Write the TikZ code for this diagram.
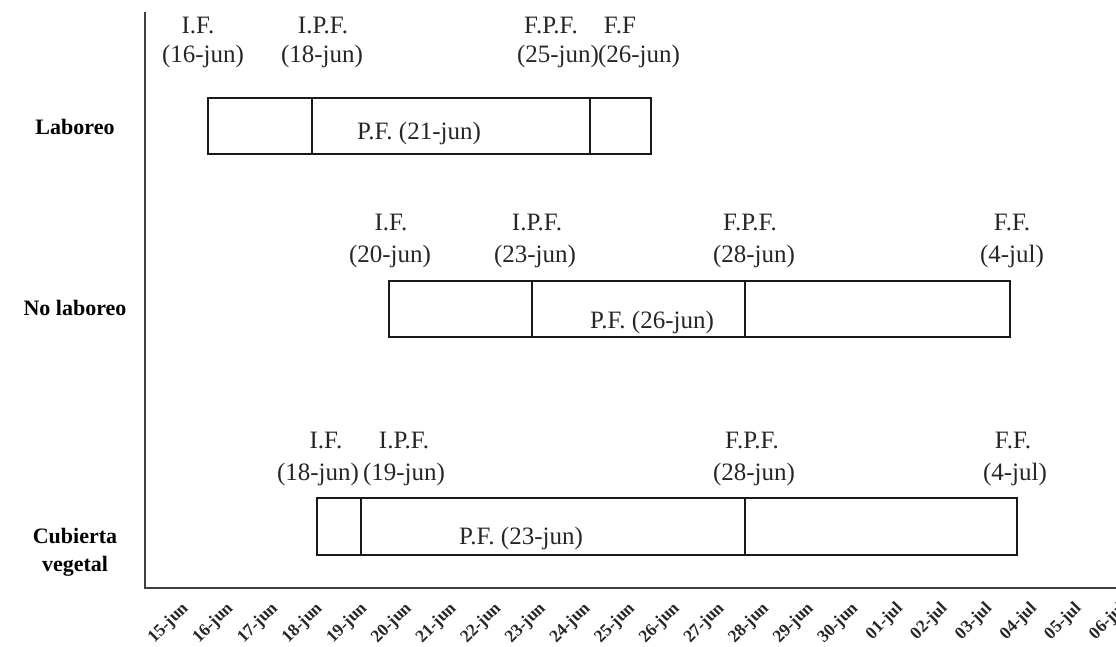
\documentclass[tikz,border=0pt]{standalone}
\usepackage{fontspec}
\setmainfont{Liberation Serif}
\begin{document}
\begin{tikzpicture}[x=1pt,y=-1pt,
  bar/.style={draw=black!90,line width=1.3pt},
  lbl/.style={anchor=base,font=\fontsize{25}{30}\selectfont,text=black!85,inner sep=0pt},
  rowlbl/.style={font=\fontsize{22}{28}\selectfont\bfseries,align=center,inner sep=0pt},
  ticklbl/.style={font=\fontsize{17.5}{20}\selectfont\bfseries,rotate=45,anchor=east,inner sep=0pt,text=black!85},
  axisline/.style={draw=black!75,line width=1.2pt}]
\useasboundingbox (0,0) rectangle (1116,646);
% axes
\coordinate (ytop) at (145,12);
\coordinate (orig) at (145,588);
\coordinate (xend) at (1116,588);
\draw[axisline] (ytop) -- (orig) -- (xend);
% tick labels
\foreach \d [count=\i from 0] in {15-jun,16-jun,17-jun,18-jun,19-jun,20-jun,21-jun,22-jun,23-jun,24-jun,25-jun,26-jun,27-jun,28-jun,29-jun,30-jun,01-jul,02-jul,03-jul,04-jul,05-jul,06-jul}
  \node[ticklbl] (t\i) at ({186+44.65*\i},606) {\d};
% row labels
\node[rowlbl] (r1) at (75,127) {Laboreo};
\node[rowlbl] (r2) at (75,308) {No laboreo};
\node[rowlbl] (r3) at (75,552) {Cubierta\\vegetal};
% Laboreo bar
\draw[bar] (208,98) rectangle (651,154);
\draw[bar] (312,98) -- (312,154);
\draw[bar] (590,98) -- (590,154);
\node[lbl] (a1) at (198,33) {I.F.};
\node[lbl] (a2) at (203,62) {(16-jun)};
\node[lbl] (a3) at (323,33) {I.P.F.};
\node[lbl] (a4) at (322,62) {(18-jun)};
\node[lbl] (a5) at (551,33) {F.P.F.};
\node[lbl] (a6) at (558,62) {(25-jun)};
\node[lbl] (a7) at (620,33) {F.F};
\node[lbl] (a8) at (639,62) {(26-jun)};
\node[lbl] (a9) at (419,139) {P.F. (21-jun)};
% No laboreo bar
\draw[bar] (389,281) rectangle (1010,337);
\draw[bar] (532,281) -- (532,337);
\draw[bar] (745,281) -- (745,337);
\node[lbl] (b1) at (391,230) {I.F.};
\node[lbl] (b2) at (390,262) {(20-jun)};
\node[lbl] (b3) at (537,230) {I.P.F.};
\node[lbl] (b4) at (535,262) {(23-jun)};
\node[lbl] (b5) at (750,230) {F.P.F.};
\node[lbl] (b6) at (754,262) {(28-jun)};
\node[lbl] (b7) at (1012,230) {F.F.};
\node[lbl] (b8) at (1012,262) {(4-jul)};
\node[lbl] (b9) at (652,328) {P.F. (26-jun)};
% Cubierta vegetal bar
\draw[bar] (317,498) rectangle (1017,555);
\draw[bar] (361,498) -- (361,555);
\draw[bar] (745,498) -- (745,555);
\node[lbl] (c1) at (326,448) {I.F.};
\node[lbl] (c2) at (318,480) {(18-jun)};
\node[lbl] (c3) at (404,448) {I.P.F.};
\node[lbl] (c4) at (404,480) {(19-jun)};
\node[lbl] (c5) at (752,448) {F.P.F.};
\node[lbl] (c6) at (754,480) {(28-jun)};
\node[lbl] (c7) at (1013,448) {F.F.};
\node[lbl] (c8) at (1015,480) {(4-jul)};
\node[lbl] (c9) at (521,544) {P.F. (23-jun)};
\end{tikzpicture}
\end{document}
